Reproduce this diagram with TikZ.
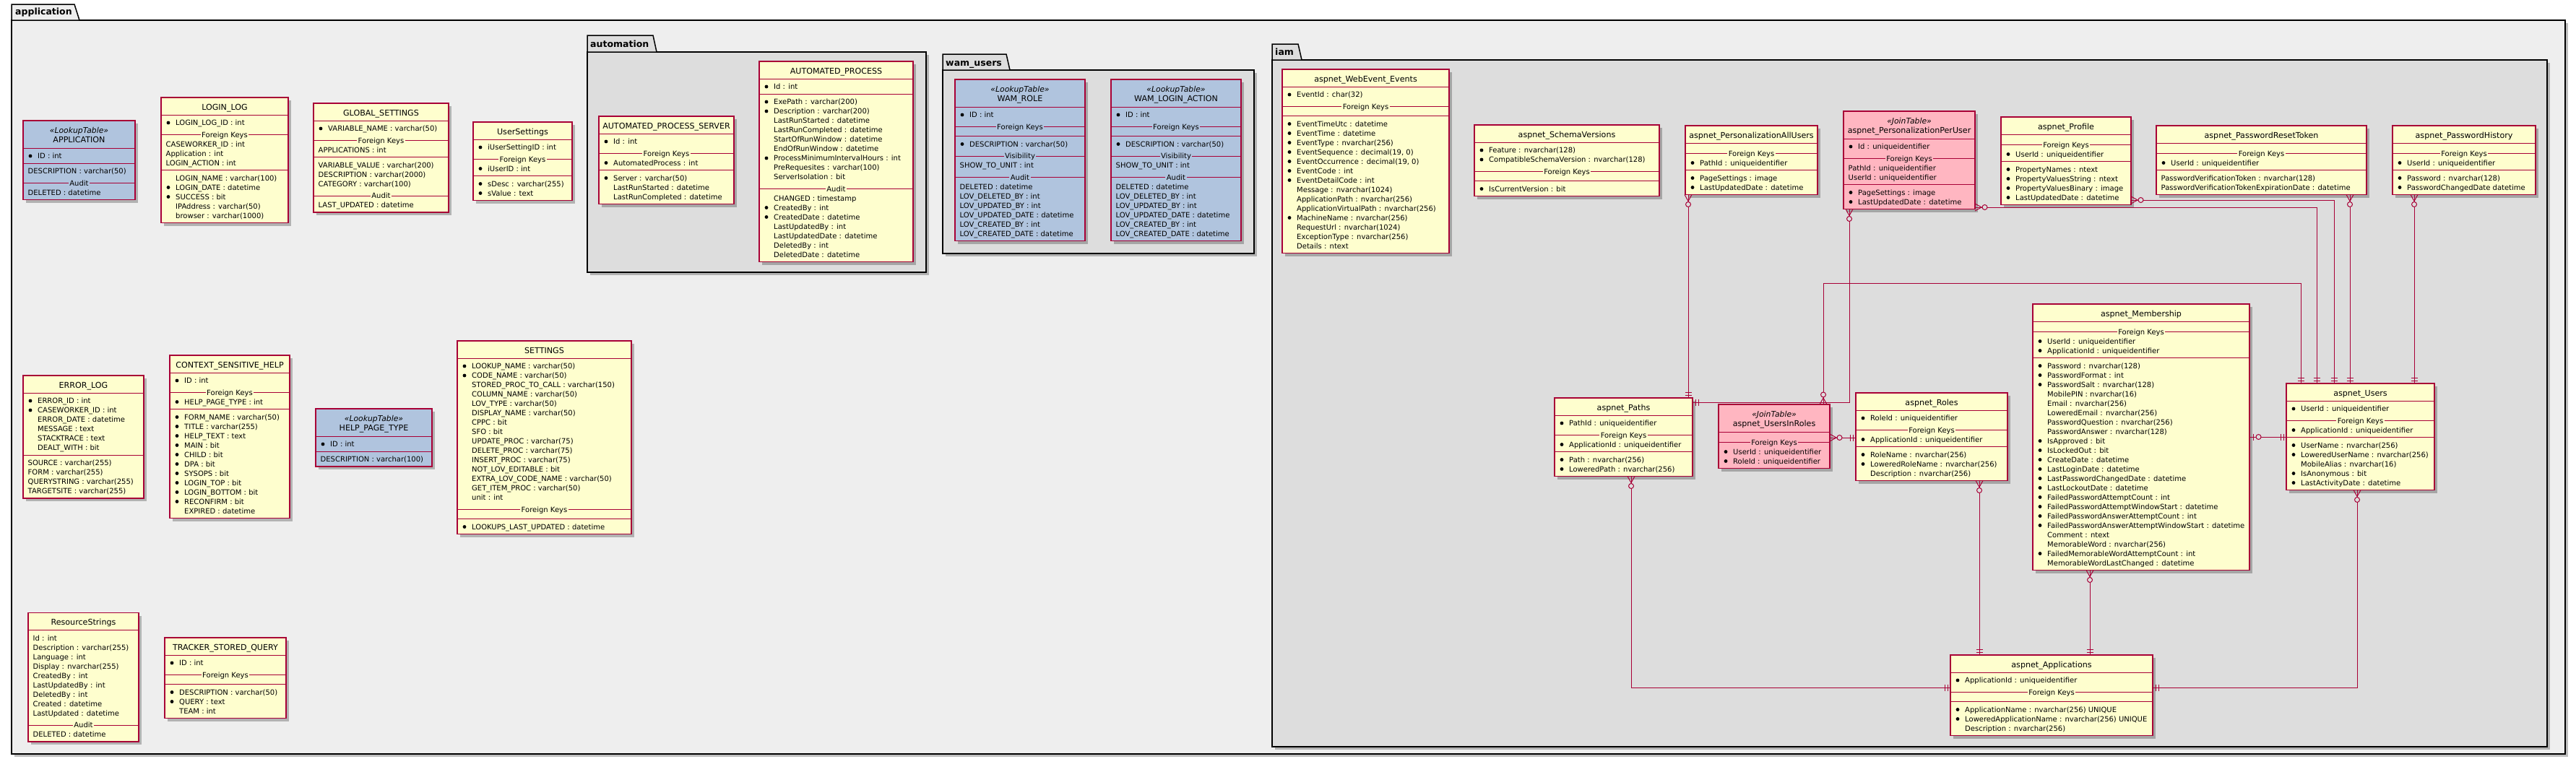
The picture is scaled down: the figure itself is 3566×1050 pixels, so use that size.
\documentclass[tikz,border=0pt]{standalone}
\usepackage{fontspec}
\setmainfont{DejaVu Sans}
\usetikzlibrary{calc}
\pgfdeclarelayer{bgl}\pgfdeclarelayer{pkga}\pgfdeclarelayer{pkgb}\pgfdeclarelayer{shad}\pgfdeclarelayer{boxl}
\pgfsetlayers{bgl,pkga,pkgb,shad,boxl,main}
\definecolor{crim}{HTML}{A80036}
\definecolor{ent}{HTML}{FEFECE}
\definecolor{lkp}{HTML}{B0C4DE}
\definecolor{jn}{HTML}{FFB6C1}
\definecolor{pga}{HTML}{EEEEEE}
\definecolor{pgb}{HTML}{DDDDDD}
\newcounter{nn}
\newcommand\ffld{\fontsize{10}{12}\selectfont}
\newcommand\fttl{\fontsize{11.1}{13}\selectfont}
\newcommand\fst{\fontsize{10.8}{13}\selectfont\itshape}
\newcommand\fpkg{\fontsize{12.5}{14}\selectfont\bfseries}
\tikzset{
  fld/.style={anchor=base west, inner sep=0, font=\ffld},
  ttl/.style={anchor=base, inner sep=0, font=\fttl},
  stereo/.style={anchor=base, inner sep=0, font=\fst},
  divl/.style={anchor=base, inner xsep=1.5pt, inner ysep=1pt, font=\ffld},
  sepl/.style={draw=crim, line width=1pt},
  tbox/.style={anchor=north west, inner sep=0, outer sep=0, draw=crim, line width=1.5pt},
  conn/.style={draw=crim, line width=1pt},
  pkgl/.style={anchor=base west, inner sep=0, font=\fpkg},
  pkgbox/.style={draw=black, line width=1.5pt},
  shadowc/.style={fill=black, opacity=0.25}
}
\newcommand\Tbeg[5]{\xdef\Tid{#1}\xdef\Tx{#2}\xdef\Ttop{#3}\xdef\Tw{#4}\xdef\Tfill{#5}\xdef\Ty{#3}}
\newcommand\Tadv[1]{\pgfmathsetmacro\tmpv{\Ty+#1}\xdef\Ty{\tmpv}}
\newcommand\Tline{\draw[sepl] (\Tx,\Ty) -- ++(\Tw,0);}
\newcommand\Ttitle[2]{%
  \ifx\relax#1\relax
    \pgfmathsetmacro\tc{\Ttop+13}%
    \stepcounter{nn}\node[ttl] (t\thenn) at (\Tx+\Tw/2,\tc+4) {#2};%
    \Tadv{24}%
  \else
    \pgfmathsetmacro\tc{\Ttop+13}%
    \stepcounter{nn}\node[stereo] (t\thenn) at (\Tx+\Tw/2,\tc+4) {#1};%
    \pgfmathsetmacro\tc{\Ttop+26.5}%
    \stepcounter{nn}\node[ttl] (t\thenn) at (\Tx+\Tw/2,\tc+4) {#2};%
    \Tadv{38}%
  \fi
  \Tline\Tadv{4.5}}
\newcommand\Rb[1]{\pgfmathsetmacro\tc{\Ty+6.5}\fill (\Tx+10,\tc) circle (2.4);\stepcounter{nn}\node[fld] (t\thenn) at (\Tx+20,\tc+3.6) {#1};\Tadv{13}}
\newcommand\Ri[1]{\pgfmathsetmacro\tc{\Ty+6.5}\stepcounter{nn}\node[fld] (t\thenn) at (\Tx+20,\tc+3.6) {#1};\Tadv{13}}
\newcommand\Rn[1]{\pgfmathsetmacro\tc{\Ty+6.5}\stepcounter{nn}\node[fld] (t\thenn) at (\Tx+6.5,\tc+3.6) {#1};\Tadv{13}}
\newcommand\Tdiv[1]{\pgfmathsetmacro\tc{\Ty+10}\draw[sepl] (\Tx,\tc) -- ++(\Tw,0);\stepcounter{nn}\node[divl, fill=\Tfill] (t\thenn) at (\Tx+\Tw/2,\tc+3.6) {#1};\Tadv{16.5}}
\newcommand\Tsep[1][0]{\Tadv{3.5+#1}\Tline\Tadv{4.5}}
\newcommand\Tend{\pgfmathsetmacro\tb{\Ty+3.5}\pgfmathsetmacro\th{\tb-\Ttop}%
  \begin{pgfonlayer}{shad}\fill[shadowc] (\Tx+4,\Ttop+4) rectangle (\Tx+\Tw+4,\tb+4);\end{pgfonlayer}%
  \begin{pgfonlayer}{boxl}\node[tbox, fill=\Tfill, minimum width=\Tw pt, minimum height=\th pt] (\Tid) at (\Tx,\Ttop) {};\end{pgfonlayer}}
% markers: #1 point on box edge, #2 angle pointing away from the box
\newcommand\mzm[2]{\begin{scope}[shift={#1},rotate=#2]\draw[conn] (0,5) -- (9,0) -- (0,-5);\draw[conn,fill=pgb] (13.5,0) circle (3.5);\end{scope}}
\newcommand\mone[2]{\begin{scope}[shift={#1},rotate=#2]\draw[conn] (4,-4.5) -- (4,4.5) (8,-4.5) -- (8,4.5);\end{scope}}
\newcommand\mzo[2]{\begin{scope}[shift={#1},rotate=#2]\draw[conn] (5,-4.5) -- (5,4.5);\draw[conn,fill=pgb] (12.5,0) circle (3.5);\end{scope}}
\begin{document}
\catcode`\_=12
\begin{tikzpicture}[x=1pt,y=-1pt]
\useasboundingbox (0,0) rectangle (3566,1050);
\begin{pgfonlayer}{bgl}\fill[white] (0,0) rectangle (3566,1050);\end{pgfonlayer}
% ---------- packages
\begin{pgfonlayer}{pkga}
\fill[shadowc] (20,32) rectangle (3555,1048);
\filldraw[pkgbox, fill=pga] (16,28) rectangle (3551,1044);
\filldraw[pkgbox, fill=pga] (16,28) -- (16,6) -- (103,6) -- (110,28) -- cycle;
\end{pgfonlayer}
\begin{pgfonlayer}{pkgb}
\fill[shadowc] (817,76) rectangle (1286,381);
\filldraw[pkgbox, fill=pgb] (813,72) rectangle (1282,377);
\filldraw[pkgbox, fill=pgb] (813,72) -- (813,49) -- (904,49) -- (909,72) -- cycle;
\fill[shadowc] (1309,101) rectangle (1740,355);
\filldraw[pkgbox, fill=pgb] (1305,97) rectangle (1736,351);
\filldraw[pkgbox, fill=pgb] (1305,97) -- (1305,75) -- (1393,75) -- (1398,97) -- cycle;
\fill[shadowc] (1765,87) rectangle (3530,1038);
\filldraw[pkgbox, fill=pgb] (1761,83) rectangle (3526,1034);
\filldraw[pkgbox, fill=pgb] (1761,83) -- (1761,61) -- (1797,61) -- (1802,83) -- cycle;
\end{pgfonlayer}
\node[pkgl] (lapp) at (21,20.7) {application};
\node[pkgl] (lauto) at (817,65) {automation};
\node[pkgl] (lwam) at (1309,91) {wam_users};
\node[pkgl] (liam) at (1765,76) {iam};
% ---------- application tables
\Tbeg{eapp}{32}{167}{155}{lkp}
\Ttitle{«LookupTable»}{APPLICATION}
\Rb{ID : int}
\Tsep
\Rn{DESCRIPTION : varchar(50)}
\Tdiv{Audit}
\Rn{DELETED : datetime}
\Tend
\Tbeg{elogin}{223}{135}{176}{ent}
\Ttitle{}{LOGIN_LOG}
\Rb{LOGIN_LOG_ID : int}
\Tdiv{Foreign Keys}
\Rn{CASEWORKER_ID : int}
\Rn{Application : int}
\Rn{LOGIN_ACTION : int}
\Tsep
\Ri{LOGIN_NAME : varchar(100)}
\Rb{LOGIN_DATE : datetime}
\Rb{SUCCESS : bit}
\Ri{IPAddress : varchar(50)}
\Ri{browser : varchar(1000)}
\Tend
\Tbeg{eglob}{434}{143}{187}{ent}
\Ttitle{}{GLOBAL_SETTINGS}
\Rb{VARIABLE_NAME : varchar(50)}
\Tdiv{Foreign Keys}
\Rn{APPLICATIONS : int}
\Tsep
\Rn{VARIABLE_VALUE : varchar(200)}
\Rn{DESCRIPTION : varchar(2000)}
\Rn{CATEGORY : varchar(100)}
\Tdiv{Audit}
\Rn{LAST_UPDATED : datetime}
\Tend
\Tbeg{euset}{655}{169}{137}{ent}
\Ttitle{}{UserSettings}
\Rb{iUserSettingID : int}
\Tdiv{Foreign Keys}
\Rb{iUserID : int}
\Tsep
\Rb{sDesc : varchar(255)}
\Rb{sValue : text}
\Tend
\Tbeg{eerr}{32}{520}{167}{ent}
\Ttitle{}{ERROR_LOG}
\Rb{ERROR_ID : int}
\Rb{CASEWORKER_ID : int}
\Ri{ERROR_DATE : datetime}
\Ri{MESSAGE : text}
\Ri{STACKTRACE : text}
\Ri{DEALT_WITH : bit}
\Tsep
\Rn{SOURCE : varchar(255)}
\Rn{FORM : varchar(255)}
\Rn{QUERYSTRING : varchar(255)}
\Rn{TARGETSITE : varchar(255)}
\Tend
\Tbeg{ecsh}{235}{492}{166}{ent}
\Ttitle{}{CONTEXT_SENSITIVE_HELP}
\Rb{ID : int}
\Tdiv{Foreign Keys}
\Rb{HELP_PAGE_TYPE : int}
\Tsep
\Rb{FORM_NAME : varchar(50)}
\Rb{TITLE : varchar(255)}
\Rb{HELP_TEXT : text}
\Rb{MAIN : bit}
\Rb{CHILD : bit}
\Rb{DPA : bit}
\Rb{SYSOPS : bit}
\Rb{LOGIN_TOP : bit}
\Rb{LOGIN_BOTTOM : bit}
\Rb{RECONFIRM : bit}
\Ri{EXPIRED : datetime}
\Tend
\Tbeg{ehpt}{437}{566}{161}{lkp}
\Ttitle{«LookupTable»}{HELP_PAGE_TYPE}
\Rb{ID : int}
\Tsep
\Rn{DESCRIPTION : varchar(100)}
\Tend
\Tbeg{eset}{633}{472}{241}{ent}
\Ttitle{}{SETTINGS}
\Rb{LOOKUP_NAME : varchar(50)}
\Rb{CODE_NAME : varchar(50)}
\Ri{STORED_PROC_TO_CALL : varchar(150)}
\Ri{COLUMN_NAME : varchar(50)}
\Ri{LOV_TYPE : varchar(50)}
\Ri{DISPLAY_NAME : varchar(50)}
\Ri{CPPC : bit}
\Ri{SFO : bit}
\Ri{UPDATE_PROC : varchar(75)}
\Ri{DELETE_PROC : varchar(75)}
\Ri{INSERT_PROC : varchar(75)}
\Ri{NOT_LOV_EDITABLE : bit}
\Ri{EXTRA_LOV_CODE_NAME : varchar(50)}
\Ri{GET_ITEM_PROC : varchar(50)}
\Ri{unit : int}
\Tdiv{Foreign Keys}
\Tsep[3]
\Rb{LOOKUPS_LAST_UPDATED : datetime}
\Tend
\Tbeg{eres}{39}{848.5}{153}{ent}
\Ttitle{}{ResourceStrings}
\Rn{Id : int}
\Rn{Description : varchar(255)}
\Rn{Language : int}
\Rn{Display : nvarchar(255)}
\Rn{CreatedBy : int}
\Rn{LastUpdatedBy : int}
\Rn{DeletedBy : int}
\Rn{Created : datetime}
\Rn{LastUpdated : datetime}
\Tdiv{Audit}
\Rn{DELETED : datetime}
\Tend
\Tbeg{etrk}{228}{883}{168}{ent}
\Ttitle{}{TRACKER_STORED_QUERY}
\Rb{ID : int}
\Tdiv{Foreign Keys}
\Tsep[3]
\Rb{DESCRIPTION : varchar(50)}
\Rb{QUERY : text}
\Ri{TEAM : int}
\Tend
% ---------- automation
\Tbeg{eaps}{829}{161}{187}{ent}
\Ttitle{}{AUTOMATED_PROCESS_SERVER}
\Rb{Id : int}
\Tdiv{Foreign Keys}
\Rb{AutomatedProcess : int}
\Tsep
\Rb{Server : varchar(50)}
\Ri{LastRunStarted : datetime}
\Ri{LastRunCompleted : datetime}
\Tend
\Tbeg{eap}{1051}{85}{213}{ent}
\Ttitle{}{AUTOMATED_PROCESS}
\Rb{Id : int}
\Tsep
\Rb{ExePath : varchar(200)}
\Rb{Description : varchar(200)}
\Ri{LastRunStarted : datetime}
\Ri{LastRunCompleted : datetime}
\Ri{StartOfRunWindow : datetime}
\Ri{EndOfRunWindow : datetime}
\Rb{ProcessMinimumIntervalHours : int}
\Ri{PreRequesites : varchar(100)}
\Ri{ServerIsolation : bit}
\Tdiv{Audit}
\Ri{CHANGED : timestamp}
\Rb{CreatedBy : int}
\Rb{CreatedDate : datetime}
\Ri{LastUpdatedBy : int}
\Ri{LastUpdatedDate : datetime}
\Ri{DeletedBy : int}
\Ri{DeletedDate : datetime}
\Tend
% ---------- wam_users
\Tbeg{ewr}{1322}{110}{180}{lkp}
\Ttitle{«LookupTable»}{WAM_ROLE}
\Rb{ID : int}
\Tdiv{Foreign Keys}
\Tsep[3]
\Rb{DESCRIPTION : varchar(50)}
\Tdiv{Visibility}
\Rn{SHOW_TO_UNIT : int}
\Tdiv{Audit}
\Rn{DELETED : datetime}
\Rn{LOV_DELETED_BY : int}
\Rn{LOV_UPDATED_BY : int}
\Rn{LOV_UPDATED_DATE : datetime}
\Rn{LOV_CREATED_BY : int}
\Rn{LOV_CREATED_DATE : datetime}
\Tend
\Tbeg{ewla}{1538}{110}{180}{lkp}
\Ttitle{«LookupTable»}{WAM_LOGIN_ACTION}
\Rb{ID : int}
\Tdiv{Foreign Keys}
\Tsep[3]
\Rb{DESCRIPTION : varchar(50)}
\Tdiv{Visibility}
\Rn{SHOW_TO_UNIT : int}
\Tdiv{Audit}
\Rn{DELETED : datetime}
\Rn{LOV_DELETED_BY : int}
\Rn{LOV_UPDATED_BY : int}
\Rn{LOV_UPDATED_DATE : datetime}
\Rn{LOV_CREATED_BY : int}
\Rn{LOV_CREATED_DATE : datetime}
\Tend
% ---------- iam
\Tbeg{ewe}{1775}{96}{231}{ent}
\Ttitle{}{aspnet_WebEvent_Events}
\Rb{EventId : char(32)}
\Tdiv{Foreign Keys}
\Tsep[3]
\Rb{EventTimeUtc : datetime}
\Rb{EventTime : datetime}
\Rb{EventType : nvarchar(256)}
\Rb{EventSequence : decimal(19, 0)}
\Rb{EventOccurrence : decimal(19, 0)}
\Rb{EventCode : int}
\Rb{EventDetailCode : int}
\Ri{Message : nvarchar(1024)}
\Ri{ApplicationPath : nvarchar(256)}
\Ri{ApplicationVirtualPath : nvarchar(256)}
\Rb{MachineName : nvarchar(256)}
\Ri{RequestUrl : nvarchar(1024)}
\Ri{ExceptionType : nvarchar(256)}
\Ri{Details : ntext}
\Tend
\Tbeg{esv}{2041}{173}{256}{ent}
\Ttitle{}{aspnet_SchemaVersions}
\Rb{Feature : nvarchar(128)}
\Rb{CompatibleSchemaVersion : nvarchar(128)}
\Tdiv{Foreign Keys}
\Tsep[3]
\Rb{IsCurrentVersion : bit}
\Tend
\Tbeg{epau}{2333}{174}{183}{ent}
\Ttitle{}{aspnet_PersonalizationAllUsers}
\Tdiv{Foreign Keys}
\Rb{PathId : uniqueidentifier}
\Tsep
\Rb{PageSettings : image}
\Rb{LastUpdatedDate : datetime}
\Tend
\Tbeg{eppu}{2552}{154}{182}{jn}
\Ttitle{«JoinTable»}{aspnet_PersonalizationPerUser}
\Rb{Id : uniqueidentifier}
\Tdiv{Foreign Keys}
\Rn{PathId : uniqueidentifier}
\Rn{UserId : uniqueidentifier}
\Tsep
\Rb{PageSettings : image}
\Rb{LastUpdatedDate : datetime}
\Tend
\Tbeg{eprof}{2770}{162}{180}{ent}
\Ttitle{}{aspnet_Profile}
\Tdiv{Foreign Keys}
\Rb{UserId : uniqueidentifier}
\Tsep
\Rb{PropertyNames : ntext}
\Rb{PropertyValuesString : ntext}
\Rb{PropertyValuesBinary : image}
\Rb{LastUpdatedDate : datetime}
\Tend
\Tbeg{eprt}{2985}{174}{291}{ent}
\Ttitle{}{aspnet_PasswordResetToken}
\Tdiv{Foreign Keys}
\Rb{UserId : uniqueidentifier}
\Tsep
\Rn{PasswordVerificationToken : nvarchar(128)}
\Rn{PasswordVerificationTokenExpirationDate : datetime}
\Tend
\Tbeg{ephi}{3312}{174}{198}{ent}
\Ttitle{}{aspnet_PasswordHistory}
\Tdiv{Foreign Keys}
\Rb{UserId : uniqueidentifier}
\Tsep
\Rb{Password : nvarchar(128)}
\Rb{PasswordChangedDate datetime}
\Tend
\Tbeg{epath}{2152}{551}{191}{ent}
\Ttitle{}{aspnet_Paths}
\Rb{PathId : uniqueidentifier}
\Tdiv{Foreign Keys}
\Rb{ApplicationId : uniqueidentifier}
\Tsep
\Rb{Path : nvarchar(256)}
\Rb{LoweredPath : nvarchar(256)}
\Tend
\Tbeg{euir}{2379}{560}{154}{jn}
\Ttitle{«JoinTable»}{aspnet_UsersInRoles}
\Tdiv{Foreign Keys}
\Rb{UserId : uniqueidentifier}
\Rb{RoleId : uniqueidentifier}
\Tend
\Tbeg{erole}{2569}{544}{210}{ent}
\Ttitle{}{aspnet_Roles}
\Rb{RoleId : uniqueidentifier}
\Tdiv{Foreign Keys}
\Rb{ApplicationId : uniqueidentifier}
\Tsep
\Rb{RoleName : nvarchar(256)}
\Rb{LoweredRoleName : nvarchar(256)}
\Ri{Description : nvarchar(256)}
\Tend
\Tbeg{emem}{2814}{421}{300}{ent}
\Ttitle{}{aspnet_Membership}
\Tdiv{Foreign Keys}
\Rb{UserId : uniqueidentifier}
\Rb{ApplicationId : uniqueidentifier}
\Tsep
\Rb{Password : nvarchar(128)}
\Rb{PasswordFormat : int}
\Rb{PasswordSalt : nvarchar(128)}
\Ri{MobilePIN : nvarchar(16)}
\Ri{Email : nvarchar(256)}
\Ri{LoweredEmail : nvarchar(256)}
\Ri{PasswordQuestion : nvarchar(256)}
\Ri{PasswordAnswer : nvarchar(128)}
\Rb{IsApproved : bit}
\Rb{IsLockedOut : bit}
\Rb{CreateDate : datetime}
\Rb{LastLoginDate : datetime}
\Rb{LastPasswordChangedDate : datetime}
\Rb{LastLockoutDate : datetime}
\Rb{FailedPasswordAttemptCount : int}
\Rb{FailedPasswordAttemptWindowStart : datetime}
\Rb{FailedPasswordAnswerAttemptCount : int}
\Rb{FailedPasswordAnswerAttemptWindowStart : datetime}
\Ri{Comment : ntext}
\Ri{MemorableWord : nvarchar(256)}
\Rb{FailedMemorableWordAttemptCount : int}
\Ri{MemorableWordLastChanged : datetime}
\Tend
\Tbeg{eusr}{3165}{531}{205}{ent}
\Ttitle{}{aspnet_Users}
\Rb{UserId : uniqueidentifier}
\Tdiv{Foreign Keys}
\Rb{ApplicationId : uniqueidentifier}
\Tsep
\Rb{UserName : nvarchar(256)}
\Rb{LoweredUserName : nvarchar(256)}
\Ri{MobileAlias : nvarchar(16)}
\Rb{IsAnonymous : bit}
\Rb{LastActivityDate : datetime}
\Tend
\Tbeg{eapps}{2700}{907}{280}{ent}
\Ttitle{}{aspnet_Applications}
\Rb{ApplicationId : uniqueidentifier}
\Tdiv{Foreign Keys}
\Tsep[3]
\Rb{ApplicationName : nvarchar(256) UNIQUE}
\Rb{LoweredApplicationName : nvarchar(256) UNIQUE}
\Ri{Description : nvarchar(256)}
\Tend
% ---------- connectors
\draw[conn] (epau.south -| 2337,0) -- (epath.north -| 2337,0);
\mzm{(epau.south -| 2337,0)}{-90}\mone{(epath.north -| 2337,0)}{90}
\draw[conn] (eppu.south -| 2560,0) |- (epath.east |- 0,557);
\mzm{(eppu.south -| 2560,0)}{-90}\mone{(epath.east |- 0,557)}{0}
\draw[conn] (eppu.east |- 0,287) -| (eusr.north -| 3207,0);
\mzm{(eppu.east |- 0,287)}{0}\mone{(eusr.north -| 3207,0)}{90}
\draw[conn] (eprof.east |- 0,277) -| (eusr.north -| 3231,0);
\mzm{(eprof.east |- 0,277)}{0}\mone{(eusr.north -| 3231,0)}{90}
\draw[conn] (eprt.south -| 3253,0) -- (eusr.north -| 3253,0);
\mzm{(eprt.south -| 3253,0)}{-90}\mone{(eusr.north -| 3253,0)}{90}
\draw[conn] (ephi.south -| 3342,0) -- (eusr.north -| 3342,0);
\mzm{(ephi.south -| 3342,0)}{-90}\mone{(eusr.north -| 3342,0)}{90}
\coordinate (k1) at (2524,392);
\coordinate (k2) at (3185,392);
\draw[conn] (euir.north -| k1) -- (k1) -- (k2) -- (eusr.north -| k2);
\mzm{(euir.north -| k1)}{90}\mone{(eusr.north -| k2)}{90}
\draw[conn] (euir.east |- 0,606) -- (erole.west |- 0,606);
\mzm{(euir.east |- 0,606)}{0}\mone{(erole.west |- 0,606)}{180}
\draw[conn] (emem.east |- 0,605) -- (eusr.west |- 0,605);
\mzo{(emem.east |- 0,605)}{0}\mone{(eusr.west |- 0,605)}{180}
\draw[conn] (epath.south -| 2258,0) |- (eapps.west |- 0,952);
\mzm{(epath.south -| 2258,0)}{-90}\mone{(eapps.west |- 0,952)}{180}
\draw[conn] (erole.south -| 2740,0) -- (eapps.north -| 2740,0);
\mzm{(erole.south -| 2740,0)}{-90}\mone{(eapps.north -| 2740,0)}{90}
\draw[conn] (emem.south -| 2893,0) -- (eapps.north -| 2893,0);
\mzm{(emem.south -| 2893,0)}{-90}\mone{(eapps.north -| 2893,0)}{90}
\draw[conn] (eusr.south -| 3263,0) |- (eapps.east |- 0,952);
\mzm{(eusr.south -| 3263,0)}{-90}\mone{(eapps.east |- 0,952)}{0}
\end{tikzpicture}
\end{document}
